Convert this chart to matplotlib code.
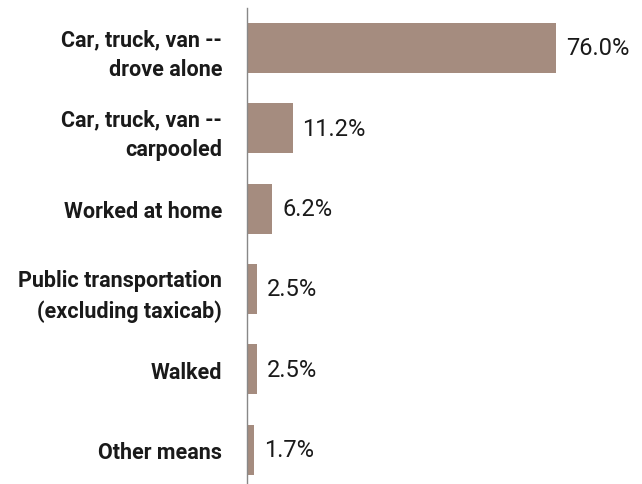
import matplotlib.pyplot as plt

# Means of transportation to work, share of workers
modes = ["Car, truck, van --\ndrove alone", "Car, truck, van --\ncarpooled",
         "Worked at home", "Public transportation\n(excluding taxicab)",
         "Walked", "Other means"]
shares = [76.0, 11.2, 6.2, 2.5, 2.5, 1.7]

plt.rcParams["font.family"] = ["Roboto", "DejaVu Sans"]

fig = plt.figure(figsize=(6.42, 4.85), dpi=100)
ax = fig.add_axes([0.385, -0.012, 0.57, 0.994])

pos = range(len(modes))
ax.barh(pos, shares, height=0.62, color="#A58C7F")
ax.set_ylim(len(modes) - 0.5, -0.5)
ax.set_xlim(0, 90)

for p, v in zip(pos, shares):
    ax.text(v + 2.4, p, f"{v:.1f}%", va="center", ha="left",
            fontsize=17, color="#1a1a1a")

ax.set_yticks(list(pos))
ax.set_yticklabels(modes, fontsize=15.5, color="#1a1a1a", fontweight="semibold",
                   linespacing=1.45)
ax.tick_params(axis="y", length=0, pad=18)
ax.set_xticks([])
for s in ["top", "right", "bottom"]:
    ax.spines[s].set_visible(False)
ax.spines["left"].set_color("#888888")
ax.spines["left"].set_linewidth(1)

fig.savefig("out.png", dpi=100)
